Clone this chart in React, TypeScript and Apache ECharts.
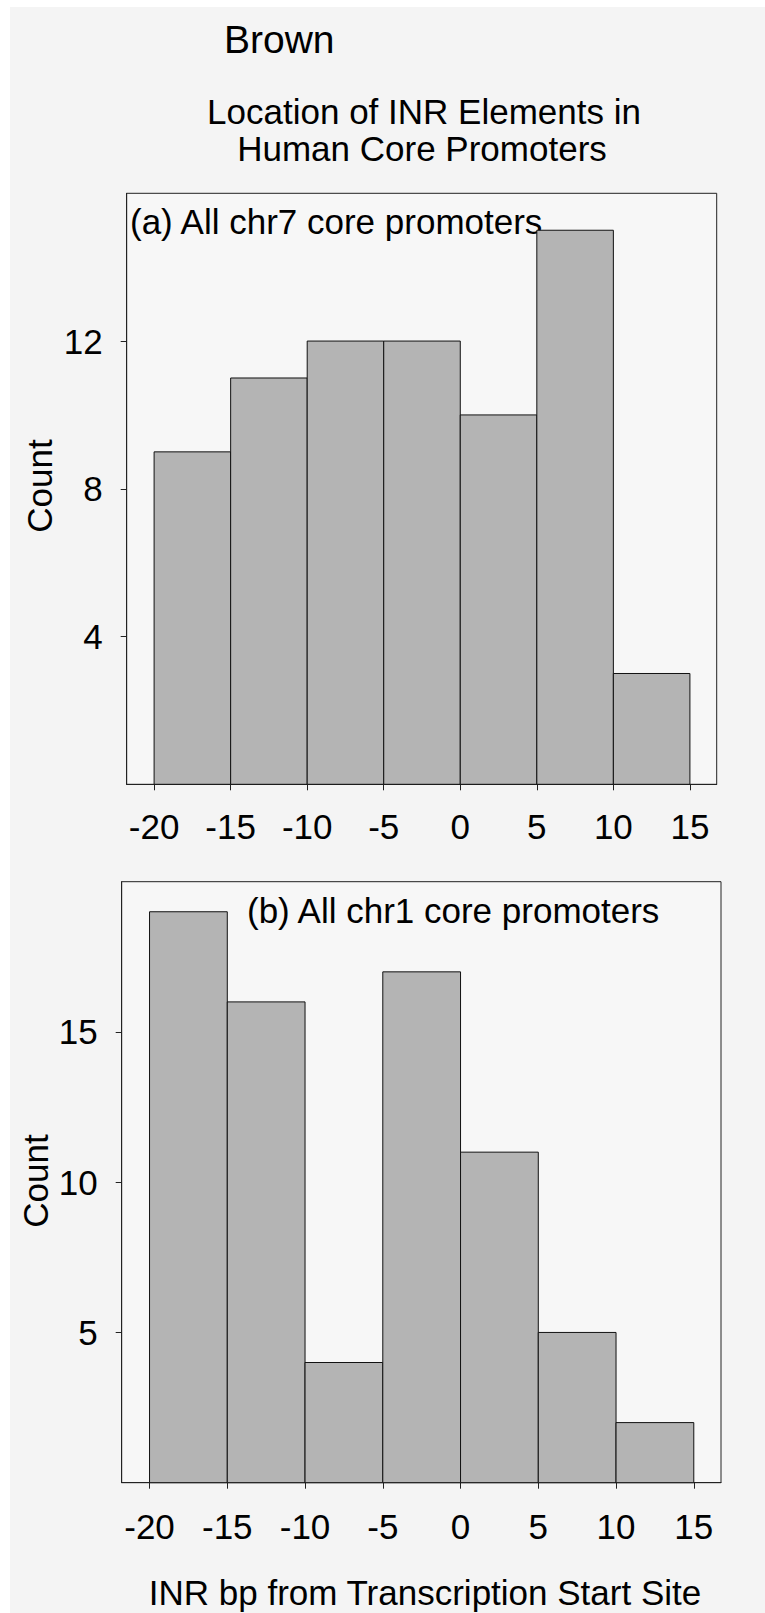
import React, { useEffect, useRef } from "react";
import * as echarts from "echarts";

// Histogram bins (INR bp from TSS), width 5
const binStarts = [-20, -15, -10, -5, 0, 5, 10];
const binWidth = 5;
// (a) All chr7 core promoters
const countsA = [9, 11, 12, 12, 10, 15, 3];
// (b) All chr1 core promoters
const countsB = [19, 16, 4, 17, 11, 5, 2];
const xTickValues = [-20, -15, -10, -5, 0, 5, 10, 15];
const yTickValuesA = [4, 8, 12];
const yTickValuesB = [5, 10, 15];

const FONT = "'Liberation Sans', Arial, Helvetica, sans-serif";
const INK = "#000";
const LINE = "#222";

function makeXAxis(gridIndex: number, margin: number) {
  return {
    type: "value",
    gridIndex,
    min: -21.79,
    max: 16.75,
    axisLine: { show: true, onZero: false, lineStyle: { color: LINE, width: 1 } },
    axisTick: { show: true, length: 6, customValues: xTickValues, lineStyle: { color: LINE, width: 1 } },
    axisLabel: { show: true, customValues: xTickValues, fontSize: 35, fontFamily: FONT, color: INK, margin },
    splitLine: { show: false },
  };
}

function makeYAxis(gridIndex: number, max: number, ticks: number[]) {
  return {
    type: "value",
    gridIndex,
    min: 0,
    max,
    axisLine: { show: true, onZero: false, lineStyle: { color: LINE, width: 1 } },
    axisTick: { show: true, length: 6, customValues: ticks, lineStyle: { color: LINE, width: 1 } },
    axisLabel: { show: true, customValues: ticks, fontSize: 35, fontFamily: FONT, color: INK, margin: 24 },
    splitLine: { show: false },
  };
}

function histSeries(index: number, counts: number[]) {
  return {
    type: "custom",
    xAxisIndex: index,
    yAxisIndex: index,
    data: binStarts.map((s, i) => [s, s + binWidth, counts[i]]),
    encode: { x: [0, 1], y: 2 },
    renderItem: (params: any, api: any) => {
      const p0 = api.coord([api.value(0), api.value(2)]);
      const p1 = api.coord([api.value(1), 0]);
      return {
        type: "rect",
        shape: { x: p0[0], y: p0[1], width: p1[0] - p0[0], height: p1[1] - p0[1] },
        style: { fill: "#b4b4b4", stroke: "#111", lineWidth: 1 },
      };
    },
  };
}

function txt(text: string, x: number, y: number, size: number, align: string, rotation = 0) {
  return {
    type: "text",
    x,
    y,
    rotation,
    style: { text, fontSize: size, fontFamily: FONT, fill: INK, align, verticalAlign: "middle" },
  };
}

export default function App() {
  const ref = useRef<HTMLDivElement>(null);
  useEffect(() => {
    if (!ref.current) return;
    const chart = echarts.init(ref.current, null, { renderer: "svg" });
    chart.setOption({
      animation: false,
      backgroundColor: "transparent",
      grid: [
        { left: 126.7, top: 193.3, width: 590, height: 591, show: true, backgroundColor: "#f7f7f7", borderColor: LINE, borderWidth: 1 },
        { left: 121.7, top: 881.7, width: 599.3, height: 601, show: true, backgroundColor: "#f7f7f7", borderColor: LINE, borderWidth: 1 },
      ],
      xAxis: [makeXAxis(0, 25), makeXAxis(1, 26)],
      yAxis: [makeYAxis(0, 16, yTickValuesA), makeYAxis(1, 20, yTickValuesB)],
      series: [histSeries(0, countsA), histSeries(1, countsB)],
      graphic: [
        txt("Brown", 224, 39, 39, "left"),
        txt("Location of INR Elements in", 424, 111, 35, "center"),
        txt("Human Core Promoters", 422, 148, 35, "center"),
        txt("(a) All chr7 core promoters", 130, 221, 35, "left"),
        txt("(b) All chr1 core promoters", 247, 910, 35, "left"),
        txt("Count", 39, 486, 35, "center", Math.PI / 2),
        txt("Count", 35, 1181, 35, "center", Math.PI / 2),
        txt("INR bp from Transcription Start Site", 425, 1592, 35, "center"),
      ],
    });
    return () => chart.dispose();
  }, []);
  return (
    <div style={{ position: "absolute", left: 0, top: 0, width: 765, height: 1613, background: "#ffffff", overflow: "hidden" }}>
      <div style={{ position: "absolute", left: 10, top: 7, right: 0, bottom: 0, background: "#f4f4f4" }} />
      <div ref={ref} style={{ position: "absolute", left: 0, top: 0, width: 765, height: 1613 }} />
    </div>
  );
}
